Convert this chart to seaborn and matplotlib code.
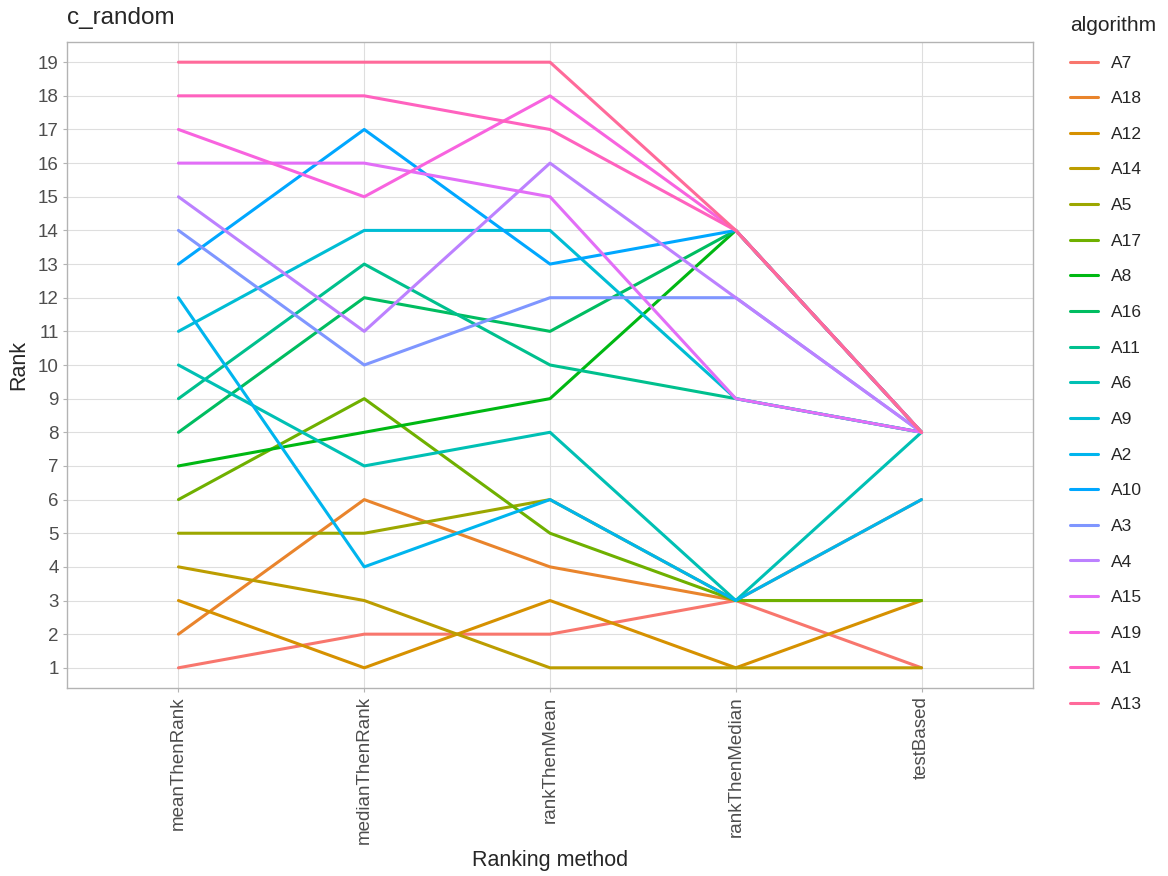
import numpy as np
import pandas as pd
import matplotlib
matplotlib.use("Agg")
import matplotlib.pyplot as plt
import seaborn as sns

# ranking methods (x axis)
methods = ["meanThenRank", "medianThenRank", "rankThenMean", "rankThenMedian", "testBased"]

# algorithms in legend order
algorithms = ["A7", "A18", "A12", "A14", "A5", "A17", "A8", "A16", "A11", "A6",
              "A9", "A2", "A10", "A3", "A4", "A15", "A19", "A1", "A13"]

# rank per method, one list per method (same order as algorithms)
mean_then_rank   = [1, 2, 3, 4, 5, 6, 7, 8, 9, 10, 11, 12, 13, 14, 15, 16, 17, 18, 19]
median_then_rank = [2, 6, 1, 3, 5, 9, 8, 12, 13, 7, 14, 4, 17, 10, 11, 16, 15, 18, 19]
rank_then_mean   = [2, 4, 3, 1, 6, 5, 9, 11, 10, 8, 14, 6, 13, 12, 16, 15, 18, 17, 19]
rank_then_median = [3, 3, 1, 1, 3, 3, 14, 14, 9, 3, 9, 3, 14, 12, 12, 9, 14, 14, 14]
test_based       = [1, 6, 3, 1, 3, 3, 8, 8, 8, 8, 8, 6, 8, 8, 8, 8, 8, 8, 8]

ranks = [mean_then_rank, median_then_rank, rank_then_mean, rank_then_median, test_based]


def hcl_hex(h, c=100, l=65):
    # polar Luv -> sRGB, like grDevices::hcl
    h = np.deg2rad(h)
    u, v = c * np.cos(h), c * np.sin(h)
    xn, yn, zn = 95.047, 100.0, 108.883
    y = yn * ((l + 16) / 116) ** 3 if l > 8 else yn * l / 903.3
    un = 4 * xn / (xn + 15 * yn + 3 * zn)
    vn = 9 * yn / (xn + 15 * yn + 3 * zn)
    up = u / (13 * l) + un
    vp = v / (13 * l) + vn
    x = 9 * y * up / (4 * vp)
    z = (12 - 3 * up - 20 * vp) * y / (4 * vp)
    xyz = np.array([x, y, z]) / 100
    m = np.array([[3.2404542, -1.5371385, -0.4985314],
                  [-0.9692660, 1.8760108, 0.0415560],
                  [0.0556434, -0.2040259, 1.0572252]])
    rgb = m @ xyz
    rgb = np.where(rgb <= 0.0031308, 12.92 * rgb, 1.055 * np.abs(rgb) ** (1 / 2.4) - 0.055)
    rgb = np.clip(rgb, 0, 1)
    return matplotlib.colors.to_hex(rgb)


n = len(algorithms)
hues = np.linspace(15, 375, n + 1)[:n]
palette = {a: hcl_hex(hh) for a, hh in zip(algorithms, hues)}

rows = []
for m, r in zip(methods, ranks):
    for a, v in zip(algorithms, r):
        rows.append({"method": m, "rank": v, "algorithm": a})
df = pd.DataFrame(rows)

sns.set_style("white")
plt.rcParams["font.family"] = ["Liberation Sans", "DejaVu Sans"]

fig = plt.figure(figsize=(11.68, 8.76), dpi=100)
ax = fig.add_axes([67 / 1168, 1 - 688 / 876, (1033 - 67) / 1168, (688 - 42) / 876])

sns.lineplot(data=df, x="method", y="rank", hue="algorithm", hue_order=algorithms,
             palette=palette, estimator=None, sort=False, linewidth=2.2, ax=ax)

ax.set_xlim(-0.6, 4.6)
ax.set_ylim(0.4, 19.6)
ax.set_yticks(range(1, 20))
ax.set_xticks(range(len(methods)))
ax.set_xticklabels(methods, rotation=90)
ax.grid(True, color="#DEDEDE", linewidth=0.8)
ax.set_axisbelow(True)
for s in ax.spines.values():
    s.set_color("#B3B3B3")
    s.set_linewidth(1.0)
ax.tick_params(axis="both", colors="#B3B3B3", length=3, width=0.8, labelsize=13.5,
               labelcolor="#4D4D4D", left=True, bottom=True, pad=3)

ax.set_xlabel("Ranking method", fontsize=15.5, labelpad=4)
ax.set_ylabel("Rank", fontsize=15.5, labelpad=6)
ax.set_title("c_random", loc="left", fontsize=17.5, pad=13)

ax.legend_.remove()
handles, labels = ax.get_legend_handles_labels()
leg = fig.legend(handles, labels, title="algorithm", loc="upper left",
                 bbox_to_anchor=(1063 / 1168, 1 - 9 / 876), frameon=False,
                 fontsize=12.5, title_fontsize=15, labelspacing=1.18,
                 handlelength=1.6, handletextpad=0.75, alignment="left",
                 borderaxespad=0.0)

fig.savefig("out.png", dpi=100)
